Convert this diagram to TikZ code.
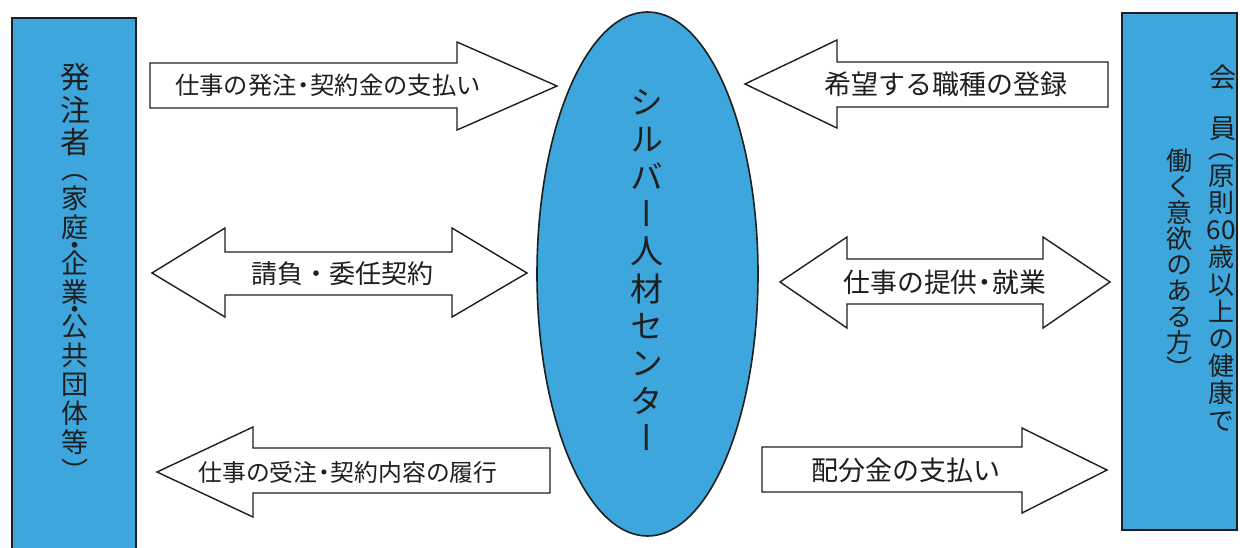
\documentclass[tikz,border=0pt]{standalone}
\usepackage{fontspec}
\usetikzlibrary{shapes.geometric}
\newfontfamily\jp{Noto Sans CJK JP}
\newfontfamily\vjp[RawFeature=+vert]{Noto Sans CJK JP}
\definecolor{sblue}{RGB}{60,166,221}
\definecolor{ink}{RGB}{30,30,30}
\newcommand{\ndot}{\kern-0.22em・\kern-0.22em}
\begin{document}
\begin{tikzpicture}[x=1pt,y=-1pt,
  panel/.style={draw=ink, line width=1.6pt, fill=sblue},
  blockarrow/.style={draw=ink, line width=1.4pt, fill=white, line join=miter},
  lbl/.style={inner sep=0pt, text=ink},
  vtext/.style={inner sep=0pt, align=center, text=ink},
]
\path[use as bounding box, fill=white] (0,0) rectangle (1240,547);

% side panels
\draw[panel] (12,18) rectangle (136,570);
\draw[panel] (1122,13) rectangle (1237,530);

% centre ellipse
\node[ellipse, panel, minimum width=221pt, minimum height=524pt, inner sep=0pt] (centre) at (647.5,274) {};
\node[vtext, font=\vjp\fontsize{33}{37.3}\selectfont] (ctext) at (647,270)
  {シ\\ル\\バ\\ー\\人\\材\\セ\\ン\\タ\\ー};

% left panel text
\node[vtext, font=\vjp\fontsize{30}{32.5}\selectfont] (lt1) at (75,110) {発\\注\\者};
\node[vtext, font=\vjp\fontsize{27}{29}\selectfont] (lt2) at (75,328)
  {（\\家\\庭\\[-11pt]・\\[-11pt]企\\業\\[-12pt]・\\[-12pt]公\\共\\団\\体\\等\\）};

% right panel text
\node[vtext, font=\vjp\fontsize{27}{30}\selectfont] (rt0a) at (1223,77) {会};
\node[vtext, font=\vjp\fontsize{27}{30}\selectfont] (rt0b) at (1223,129) {員};
\node[vtext, font=\vjp\fontsize{26}{27.2}\selectfont] (rt1) at (1221,292)
  {（\\原\\則\\60\\歳\\以\\上\\の\\健\\康\\で};
\node[vtext, font=\vjp\fontsize{26}{26}\selectfont] (rt2) at (1179,264)
  {働\\く\\意\\欲\\の\\あ\\る\\方\\）};

% block arrows
\draw[blockarrow] (150,63) -- (457,63) -- (457,42) -- (557,86) -- (457,130) -- (457,108) -- (150,108) -- cycle;
\draw[blockarrow] (1108,62) -- (837,62) -- (837,40) -- (745,84) -- (837,128) -- (837,107) -- (1108,107) -- cycle;
\draw[blockarrow] (152,273) -- (225,228) -- (225,252) -- (452,252) -- (452,228) -- (527,273) -- (452,317) -- (452,295) -- (225,295) -- (225,317) -- cycle;
\draw[blockarrow] (780,282) -- (847,237) -- (847,259) -- (1043,259) -- (1043,237) -- (1110,282) -- (1043,328) -- (1043,304) -- (847,304) -- (847,328) -- cycle;
\draw[blockarrow] (157,472) -- (253,427) -- (253,448) -- (550,448) -- (550,493) -- (253,493) -- (253,517) -- cycle;
\draw[blockarrow] (762,447) -- (1022,447) -- (1022,428) -- (1107,470) -- (1022,513) -- (1022,492) -- (762,492) -- cycle;

% arrow labels
\node[lbl, font=\jp\fontsize{24.3}{26}\selectfont] (a1) at (328,85) {仕事の発注\ndot 契約金の支払い};
\node[lbl, font=\jp\fontsize{27}{30}\selectfont] (a2) at (946,84) {希望する職種の登録};
\node[lbl, font=\jp\fontsize{26}{30}\selectfont] (a3) at (342,274) {請負・委任契約};
\node[lbl, font=\jp\fontsize{26.8}{30}\selectfont] (a4) at (945,282) {仕事の提供\ndot 就業};
\node[lbl, font=\jp\fontsize{23.8}{26}\selectfont] (a5) at (348,472) {仕事の受注\ndot 契約内容の履行};
\node[lbl, font=\jp\fontsize{27}{30}\selectfont] (a6) at (906,470) {配分金の支払い};
\end{tikzpicture}
\end{document}
